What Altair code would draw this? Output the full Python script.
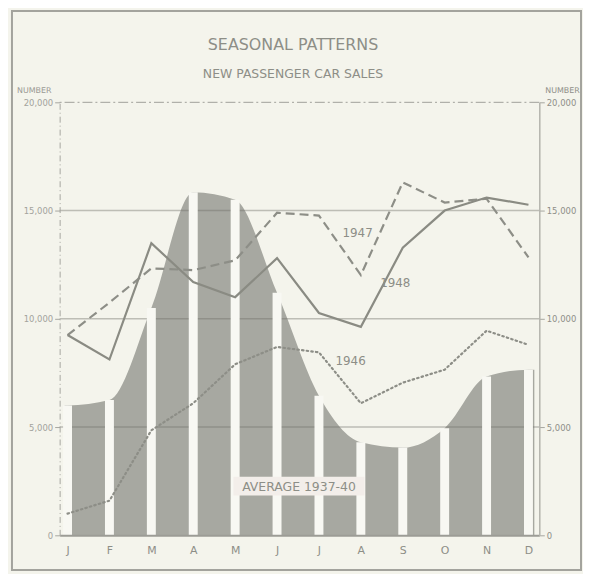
import altair as alt
import pandas as pd

# ---------------- data ----------------
months = ["J", "F", "M", "A", "M", "J", "J", "A", "S", "O", "N", "D"]
avg_1937_40 = [6000, 6250, 10500, 15850, 15500, 11200, 6450, 4300, 4050, 4950, 7330, 7650]
sales_1946 = [1000, 1600, 4850, 6100, 7900, 8700, 8450, 6100, 7050, 7650, 9450, 8800]
sales_1947 = [9250, 10750, 12330, 12250, 12700, 14900, 14770, 12020, 16300, 15370, 15550, 12840]
sales_1948 = [9250, 8120, 13490, 11700, 11000, 12800, 10270, 9630, 13280, 15000, 15600, 15270]
y_ticks = [0, 5000, 10000, 15000, 20000]
grid_vals = [5000, 10000, 15000]
top_val = [20000]

title_text = "SEASONAL PATTERNS"
subtitle_text = "NEW PASSENGER CAR SALES"
unit_text = "NUMBER"
avg_label = "AVERAGE 1937-40"
label_1946, label_1947, label_1948 = "1946", "1947", "1948"

# ---------------- styling ----------------
BG = "#f4f4ec"
INK = "#8d8e87"
AREA = "#a7a8a1"
FONT = "DejaVu Sans"

X_MIN, X_MAX = -0.07, 11.14
idx = list(range(12))

xs = alt.Scale(domain=[X_MIN, X_MAX], nice=False, zero=False)
ys = alt.Scale(domain=[0, 20000], nice=False)

label_expr = "[" + ",".join("'%s'" % m for m in months) + "][datum.value]"
x_axis = alt.Axis(values=idx, labelExpr=label_expr, ticks=False, grid=False,
                  domainColor="#9c9c96", domainWidth=2, labelFontSize=11,
                  labelColor=INK, labelPadding=9, title=None, zindex=1,
                  labelFont=FONT)
x_enc = alt.X("x:Q", scale=xs, axis=x_axis)

left_axis = alt.Axis(orient="left", values=y_ticks, format=",.0f", grid=False,
                     labelFontSize=8.5, labelColor="#a3a39d", labelPadding=2,
                     domainColor="#a5a59f", domainDash=[6, 3, 1, 3], domainWidth=1,
                     tickColor="#a5a59f", tickSize=5, title=None, zindex=1,
                     labelFont=FONT)
right_axis = alt.Axis(orient="right", values=y_ticks, format=",.0f", grid=False,
                      labelFontSize=8.5, labelColor="#8f8f89", labelPadding=2,
                      domainColor="#b3b3ad", domainWidth=1.5,
                      tickColor="#a5a59f", tickSize=5, title=None, zindex=1,
                      labelFont=FONT)

area_df = pd.DataFrame({
    "x": [X_MIN] + idx + [X_MAX],
    "v": [avg_1937_40[0]] + avg_1937_40 + [avg_1937_40[-1]],
})
bars_df = pd.DataFrame({"x": idx, "v": avg_1937_40})
df46 = pd.DataFrame({"x": idx, "v": sales_1946})
df47 = pd.DataFrame({"x": idx, "v": sales_1947})
df48 = pd.DataFrame({"x": idx, "v": sales_1948})
grid_df = pd.DataFrame({"v": grid_vals})
top_df = pd.DataFrame({"v": top_val})
one = pd.DataFrame({"k": [0]})

frame = alt.Chart(one).mark_rect(fillOpacity=0, stroke="#a3a39d", strokeWidth=2).encode(
    x=alt.value(-48), x2=alt.value(525), y=alt.value(-92), y2=alt.value(471))

area = alt.Chart(area_df).mark_area(color=AREA, interpolate="monotone").encode(
    x=x_enc, y=alt.Y("v:Q", scale=ys, axis=left_axis))

grid = alt.Chart(grid_df).mark_rule(color="#6f6f68", opacity=0.42, strokeWidth=1.6).encode(
    y=alt.Y("v:Q", scale=ys, axis=None))

top_rule = alt.Chart(top_df).mark_rule(color="#a0a09a", strokeWidth=1, strokeDash=[10, 3, 2, 3]).encode(
    y=alt.Y("v:Q", scale=ys, axis=None))

bars = alt.Chart(bars_df).mark_bar(size=9, color="#f8f8f3").encode(
    x=x_enc, y=alt.Y("v:Q", scale=ys, axis=right_axis))

line46 = alt.Chart(df46).mark_line(color=INK, strokeWidth=2.2, strokeDash=[1.5, 3.2],
                                   strokeCap="round").encode(
    x=x_enc, y=alt.Y("v:Q", scale=ys, axis=None))
line47 = alt.Chart(df47).mark_line(color=INK, strokeWidth=2.2, strokeDash=[9, 5]).encode(
    x=x_enc, y=alt.Y("v:Q", scale=ys, axis=None))
line48 = alt.Chart(df48).mark_line(color="#8a8b83", strokeWidth=2.2).encode(
    x=x_enc, y=alt.Y("v:Q", scale=ys, axis=None))


def txt(s, x, y, size, color=INK, align="center"):
    return alt.Chart(one).mark_text(font=FONT, fontSize=size, color=color, align=align,
                                    baseline="middle").encode(
        x=alt.value(x), y=alt.value(y), text=alt.value(s))


avg_box = alt.Chart(one).mark_rect(color="#f3eeea").encode(
    x=alt.value(175), x2=alt.value(307), y=alt.value(377), y2=alt.value(396))

texts = [
    txt(title_text, 235, -58, 16),
    txt(subtitle_text, 235, -28, 12.5),
    txt(unit_text, -43, -11, 8, "#9a9a94", "left"),
    txt(unit_text, 489, -11, 8, "#8f8f89", "left"),
    txt(label_1947, 300, 132, 12),
    txt(label_1948, 338, 182, 12),
    txt(label_1946, 293, 261, 12),
    txt(avg_label, 241, 387, 12.5),
]

chart = alt.layer(frame, area, grid, top_rule, bars, line46, line47, line48, avg_box, *texts).resolve_axis(
    y="independent"
).properties(
    width=483, height=436,
    padding={"left": 52, "top": 93, "right": 44, "bottom": 37},
    autosize=alt.AutoSizeParams(type="none"),
    background=BG,
).configure_view(stroke=None)

chart.save("out.html", embed_options={"renderer": "svg", "actions": False})
